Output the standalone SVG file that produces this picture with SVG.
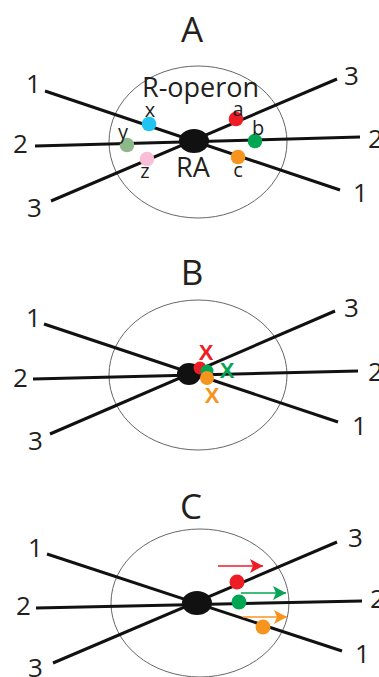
<svg xmlns="http://www.w3.org/2000/svg" width="379" height="677" viewBox="0 0 379 677">
<style>
.t{font-family:"Open Sans","Liberation Sans",sans-serif;fill:#231f20}
.num{font-size:26px}
.ttl{font-size:35px;text-anchor:middle}
.lbl{font-size:20px;text-anchor:middle}
.big{font-size:27px}
.ln{stroke:#111;stroke-width:3;fill:none;stroke-linecap:butt}
.cell{fill:none;stroke:#666;stroke-width:1}
.ra{fill:#111}
.xm{font-family:"Liberation Sans",sans-serif;font-weight:bold;font-size:22px;text-anchor:middle}
</style>
<defs>
<marker id="ahR" markerUnits="userSpaceOnUse" markerWidth="14" markerHeight="14" refX="13" refY="7" orient="auto"><path d="M0,0 L13,7 L0,14 L3,7 Z" fill="#ee1c24"/></marker>
<marker id="ahG" markerUnits="userSpaceOnUse" markerWidth="14" markerHeight="14" refX="13" refY="7" orient="auto"><path d="M0,0 L13,7 L0,14 L3,7 Z" fill="#00a651"/></marker>
<marker id="ahO" markerUnits="userSpaceOnUse" markerWidth="14" markerHeight="14" refX="13" refY="7" orient="auto"><path d="M0,0 L13,7 L0,14 L3,7 Z" fill="#f7941d"/></marker>
</defs>

<!-- Panel A -->
<g id="panelA">
<text class="t ttl" x="192" y="42">A</text>
<g id="A-cell"><ellipse class="cell" cx="198" cy="142" rx="89" ry="76"/>
<text class="t big" x="142" y="97">R-operon</text></g>
<g id="A-connectors">
<line class="ln" x1="45" y1="91" x2="340" y2="190"/>
<line class="ln" x1="35" y1="146" x2="360" y2="137"/>
<line class="ln" x1="51" y1="201" x2="337" y2="79"/>
</g>
<g id="A-RA"><ellipse class="ra" cx="194" cy="141" rx="15" ry="12"/>
<text class="t big" x="176" y="177">RA</text></g>
<g id="A-x"><circle cx="149" cy="124" r="7.3" fill="#1fc4f0"/><text class="t lbl" x="150" y="117">x</text></g>
<g id="A-a"><circle cx="236" cy="119" r="7.3" fill="#ee1c24"/><text class="t lbl" x="238" y="116">a</text></g>
<g id="A-y"><circle cx="127" cy="145" r="7.3" fill="#8fb88a"/><text class="t lbl" x="123" y="139">y</text></g>
<g id="A-b"><circle cx="255" cy="141" r="7.3" fill="#00a651"/><text class="t lbl" x="258" y="135">b</text></g>
<g id="A-z"><circle cx="147" cy="159" r="7.3" fill="#f9bfd6"/><text class="t lbl" x="145" y="178">z</text></g>
<g id="A-c"><circle cx="238" cy="157" r="7.3" fill="#f7941d"/><text class="t lbl" x="238" y="177">c</text></g>
<g id="A-labels">
<text class="t num" x="26" y="93">1</text>
<text class="t num" x="13" y="153">2</text>
<text class="t num" x="27" y="217">3</text>
<text class="t num" x="344" y="85">3</text>
<text class="t num" x="368" y="148">2</text>
<text class="t num" x="353" y="202">1</text>
</g>
</g>

<!-- Panel B -->
<g id="panelB">
<text class="t ttl" x="192" y="285">B</text>
<g id="B-cell"><ellipse class="cell" cx="198" cy="375" rx="89" ry="75"/></g>
<g id="B-connectors">
<line class="ln" x1="44" y1="324" x2="338" y2="422"/>
<line class="ln" x1="33" y1="379" x2="358" y2="371"/>
<line class="ln" x1="50" y1="434" x2="335" y2="311"/>
</g>
<g id="B-RA"><ellipse class="ra" cx="189" cy="374" rx="12" ry="11"/></g>
<g id="B-red"><circle cx="200" cy="368" r="6.5" fill="#ee1c24"/><text class="xm" x="206" y="360" fill="#ee1c24">X</text></g>
<g id="B-green"><circle cx="207" cy="371" r="6.5" fill="#00a651"/><text class="xm" x="227" y="378" fill="#00a651">X</text></g>
<g id="B-orange"><circle cx="207" cy="378" r="7" fill="#f7941d"/><text class="xm" x="212" y="403" fill="#f7941d">X</text></g>
<g id="B-labels">
<text class="t num" x="26" y="327">1</text>
<text class="t num" x="13" y="387">2</text>
<text class="t num" x="28" y="450">3</text>
<text class="t num" x="344" y="317">3</text>
<text class="t num" x="368" y="381">2</text>
<text class="t num" x="352" y="435">1</text>
</g>
</g>

<!-- Panel C -->
<g id="panelC">
<text class="t ttl" x="191" y="519">C</text>
<g id="C-cell"><ellipse class="cell" cx="200" cy="603" rx="89" ry="74"/></g>
<g id="C-connectors">
<line class="ln" x1="47" y1="554" x2="342" y2="651"/>
<line class="ln" x1="36" y1="608" x2="362" y2="601"/>
<line class="ln" x1="53" y1="663" x2="337" y2="542"/>
</g>
<g id="C-RA"><ellipse class="ra" cx="197" cy="603" rx="15" ry="12"/></g>
<g id="C-red"><circle cx="237" cy="582" r="7.5" fill="#ee1c24"/>
<line x1="218" y1="566" x2="263" y2="566" stroke="#ee1c24" stroke-width="1.6" marker-end="url(#ahR)"/></g>
<g id="C-green"><circle cx="239" cy="602" r="7.5" fill="#00a651"/>
<line x1="241" y1="593" x2="286" y2="593" stroke="#00a651" stroke-width="1.6" marker-end="url(#ahG)"/></g>
<g id="C-orange"><circle cx="263" cy="627" r="7.5" fill="#f7941d"/>
<line x1="243" y1="617" x2="287" y2="617" stroke="#f7941d" stroke-width="1.6" marker-end="url(#ahO)"/></g>
<g id="C-labels">
<text class="t num" x="28" y="557">1</text>
<text class="t num" x="16" y="615">2</text>
<text class="t num" x="28" y="677">3</text>
<text class="t num" x="348" y="547">3</text>
<text class="t num" x="370" y="608">2</text>
<text class="t num" x="355" y="663">1</text>
</g>
</g>
</svg>
